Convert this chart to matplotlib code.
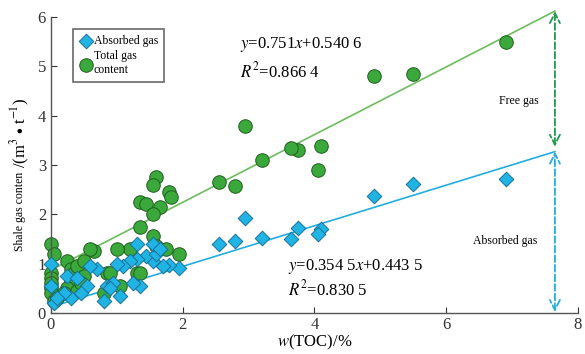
import numpy as np
import matplotlib
matplotlib.use('Agg')
import matplotlib.pyplot as plt

# absorbed gas (blue diamonds)
abs_toc = [6.9, 5.5, 4.9, 4.1, 4.05, 3.75, 3.65, 3.2, 2.95, 2.8, 2.55,
           1.95, 1.8, 1.7, 1.55, 1.45, 1.6, 1.3, 1.2, 1.1, 1.0, 1.3, 1.55, 1.65,
           1.35, 1.25, 1.05, 0.8, 0.85, 0.95, 0.9, 0.7, 0.6, 0.55, 0.45, 0.3,
           0.2, 0.25, 0.0, 0.0, 0.05, 0.1, 0.4]
abs_gas = [2.72, 2.62, 2.38, 1.7, 1.6, 1.72, 1.5, 1.52, 1.92, 1.45, 1.4,
           0.92, 0.97, 0.95, 1.05, 1.15, 1.2, 1.1, 1.05, 0.95, 1.0, 1.4, 1.4, 1.3,
           0.55, 0.6, 0.35, 0.25, 0.55, 0.6, 0.5, 0.9, 0.95, 0.55, 0.4, 0.3,
           0.4, 0.75, 1.0, 0.55, 0.2, 0.3, 0.7]

# total gas content (green circles)
tot_toc = [6.9, 5.5, 4.9, 4.1, 4.05, 3.75, 3.65, 2.95, 3.2, 2.8, 2.55,
           1.6, 1.55, 1.8, 1.83, 1.35, 1.45, 1.65, 1.55, 1.35, 1.55, 1.6, 1.75,
           1.95, 1.2, 1.0, 0.65, 0.6, 1.3, 1.35, 0.85, 0.9, 0.8, 1.05,
           0.0, 0.05, 0.0, 0.0, 0.0, 0.0, 0.0, 0.05, 0.1, 0.25, 0.3, 0.35,
           0.4, 0.5, 0.3, 0.25, 0.4, 0.5, 0.2, 0.45]
tot_gas = [5.5, 4.85, 4.8, 3.38, 2.9, 3.3, 3.35, 3.8, 3.1, 2.58, 2.65,
           2.75, 2.6, 2.45, 2.35, 2.25, 2.2, 2.15, 2.0, 1.75, 1.55, 1.35, 1.3,
           1.2, 1.3, 1.3, 1.25, 1.3, 0.8, 0.8, 0.8, 0.8, 0.4, 0.55,
           1.4, 1.2, 0.8, 0.7, 0.6, 0.5, 0.4, 0.25, 0.3, 1.05, 0.9, 0.8,
           0.95, 1.05, 0.65, 0.5, 0.45, 0.75, 0.4, 0.6]

# trend lines as drawn (end points)
line_x = [0.0, 7.65]
tot_line = [0.87, 6.12]
abs_line = [0.12, 3.27]
arrow_x = 7.65

green = '#3aa83a'
green_edge = '#1f5f1f'
blue = '#1fb4e4'
blue_edge = '#17719a'
gline = '#6cbd5c'
bline = '#22aee0'

plt.rcParams['font.family'] = ['Liberation Serif', 'DejaVu Serif']
plt.rcParams['mathtext.fontset'] = 'stix'

fig = plt.figure(figsize=(5.85, 3.54), dpi=100)
ax = fig.add_axes([0.087, 0.116, 0.901, 0.836])

ax.plot(line_x, tot_line, color=gline, lw=1.2, clip_on=False, zorder=1)
ax.plot(line_x, abs_line, color=bline, lw=1.2, clip_on=False, zorder=1)

ax.scatter(abs_toc, abs_gas, marker='D', s=55, color=blue, edgecolors=blue_edge,
           linewidths=0.7, zorder=3, label='Absorbed gas', clip_on=False)
ax.scatter(tot_toc, tot_gas, marker='o', s=95, color=green, edgecolors=green_edge,
           linewidths=0.7, zorder=2, label='Total gas\ncontent', clip_on=False)

# free gas / absorbed gas arrows
ax.annotate('', xy=(arrow_x, tot_line[1]), xytext=(arrow_x, abs_line[1] + 0.1),
            arrowprops=dict(arrowstyle='<->', color='#1e9a4a', lw=1.3, ls='--',
                            mutation_scale=18, shrinkA=0, shrinkB=0),
            annotation_clip=False)
ax.annotate('', xy=(arrow_x, abs_line[1]), xytext=(arrow_x, 0.02),
            arrowprops=dict(arrowstyle='<->', color=bline, lw=1.3, ls='--',
                            mutation_scale=18, shrinkA=0, shrinkB=0),
            annotation_clip=False)

ax.text(7.1, 4.3, 'Free gas', fontsize=8.5, ha='center', va='center')
ax.text(6.9, 1.46, 'Absorbed gas', fontsize=8.5, ha='center', va='center')

ax.text(2.87, 5.45, r'$y$=0.751$x$+0.540 6', fontsize=12, va='center')
ax.text(2.87, 4.9, r'$R^2$=0.866 4', fontsize=12, va='center')
ax.text(3.6, 0.95, r'$y$=0.354 5$x$+0.443 5', fontsize=12, va='center')
ax.text(3.6, 0.48, r'$R^2$=0.830 5', fontsize=12, va='center')

ax.set_xlim(0, 8)
ax.set_ylim(0, 6)
ax.set_xticks([0, 2, 4, 6, 8])
ax.set_yticks([0, 1, 2, 3, 4, 5, 6])
ax.tick_params(direction='in', labelsize=12, colors='#333333', length=4)
ax.tick_params(axis='x', pad=3)
for s in ['top', 'right']:
    ax.spines[s].set_visible(False)
for s in ['left', 'bottom']:
    ax.spines[s].set_color('#555555')
    ax.spines[s].set_linewidth(1.0)

ax.set_xlabel(r'$w$(TOC)/%', fontsize=12, labelpad=0)
fig.text(0.035, 0.515, 'Shale gas conten', rotation=90, fontsize=8.5,
         ha='center', va='top')
fig.text(0.035, 0.525, r'/(m$^3$ $\bullet$ t$^{-1}$)', rotation=90, fontsize=12,
         ha='center', va='bottom')

leg = ax.legend(loc='upper left', bbox_to_anchor=(0.03, 0.98), fontsize=8.5,
                frameon=True, fancybox=False, edgecolor='#444444',
                handletextpad=0.1, borderpad=0.5, labelspacing=0.3,
                handlelength=1.2, scatterpoints=1)
leg.get_frame().set_linewidth(1.2)

fig.savefig('out.png', dpi=100)
